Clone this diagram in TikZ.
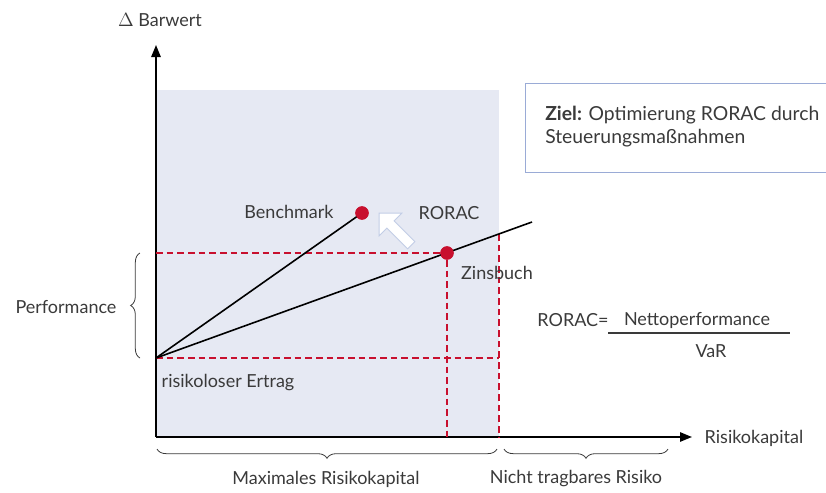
\documentclass[tikz,border=0pt]{standalone}
\usepackage{fontspec}
\setmainfont{Lato}
\usetikzlibrary{positioning, arrows.meta, shapes.arrows, calc, decorations.pathreplacing}
\definecolor{areafill}{HTML}{E6E9F3}
\definecolor{dotred}{HTML}{C8102E}
\definecolor{boxblue}{HTML}{9AABD6}
\definecolor{txtgray}{HTML}{3A3A3A}

\begin{document}
\begin{tikzpicture}[
    x=0.75pt, y=-0.75pt,
    every node/.style={font=\fontsize{13.5}{16}\selectfont, text=txtgray},
    axis/.style={-{Triangle[length=9pt, width=7pt]}, line width=1.3pt},
    ray/.style={line width=1.2pt},
    dot/.style={circle, fill=dotred, inner sep=0pt, minimum size=10pt},
    reddash/.style={draw=dotred, dashed, dash pattern=on 5pt off 3pt, line width=0.8pt},
    brc/.style={decorate, decoration={brace, amplitude=7pt}, line width=0.6pt, draw=txtgray},
    zielbox/.style={draw=boxblue, line width=0.6pt, rectangle, minimum width=226pt, minimum height=67pt, inner sep=0pt}
]
    \useasboundingbox (0,0) rectangle (826,493);

    % shaded region and axes
    \coordinate (axorigin) at (156,437);
    \coordinate (ytip) at (156,45);
    \coordinate (xtip) at (692,437);
    \fill[areafill] (156,90) rectangle (499,437);
    \draw[axis] (axorigin) -- (ytip);
    \draw[axis] (axorigin) -- (xtip);
    \node (ylabel) at (160,20) {$\Delta$ Barwert};
    \node (xlabel) at (754,438) {Risikokapital};

    % rays and points
    \coordinate (lineorigin) at (156,358);
    \coordinate (zinsend) at (532,222);
    \coordinate (limit) at (499,234);
    \node[dot] (bench) at (362,213) {};
    \node[dot] (zins) at (447,253) {};

    \draw[reddash] (zins -| lineorigin) -- (zins);
    \draw[reddash] (zins) -- (zins |- axorigin);
    \draw[reddash] (lineorigin) -- (lineorigin -| limit);
    \draw[reddash] (limit) -- (limit |- axorigin);

    \draw[ray] (lineorigin) -- (bench.center);
    \draw[ray] (lineorigin) -- (zinsend);
    \node[dot] at (bench) {};
    \node[dot] at (zins) {};

    \node[single arrow, draw=boxblue!60, fill=white, line width=0.7pt, rotate=135,
          minimum height=34pt, minimum width=24pt, single arrow head extend=5pt,
          inner sep=2pt] (shift) at (397,231) {};

    \node (benchlabel) at (289,212) {Benchmark};
    \node (roraclabel) at (449,213) {RORAC};
    \node (zinslabel) at (497,273) {Zinsbuch};
    \node (riskfree) at (228,383) {risikoloser Ertrag};

    % performance brace
    \draw[brc] (140,358) -- (140,253);
    \node (perf) at (66,307) {Performance};

    % target box
    \node[zielbox, anchor=north west] (ziel) at (525,83) {};
    \node[anchor=north west, align=left, inner sep=0pt, font=\fontsize{14.5}{17}\selectfont] (zieltext) at (545,106)
        {\textbf{Ziel:} Optimierung RORAC durch\\Steuerungsmaßnahmen};

    % formula
    \node (rorac) at (573,320) {RORAC=};
    \node (num) at (697,320) {Nettoperformance};
    \node (den) at (711,351) {VaR};
    \draw[line width=0.8pt, draw=txtgray] (608,333) -- (790,333);

    % lower braces
    \draw[brc] (497,449) -- (157,449);
    \draw[brc] (668,449) -- (504,449);
    \node (maxrisk) at (326,479) {Maximales Risikokapital};
    \node (notrisk) at (576,479) {Nicht tragbares Risiko};
\end{tikzpicture}
\end{document}
